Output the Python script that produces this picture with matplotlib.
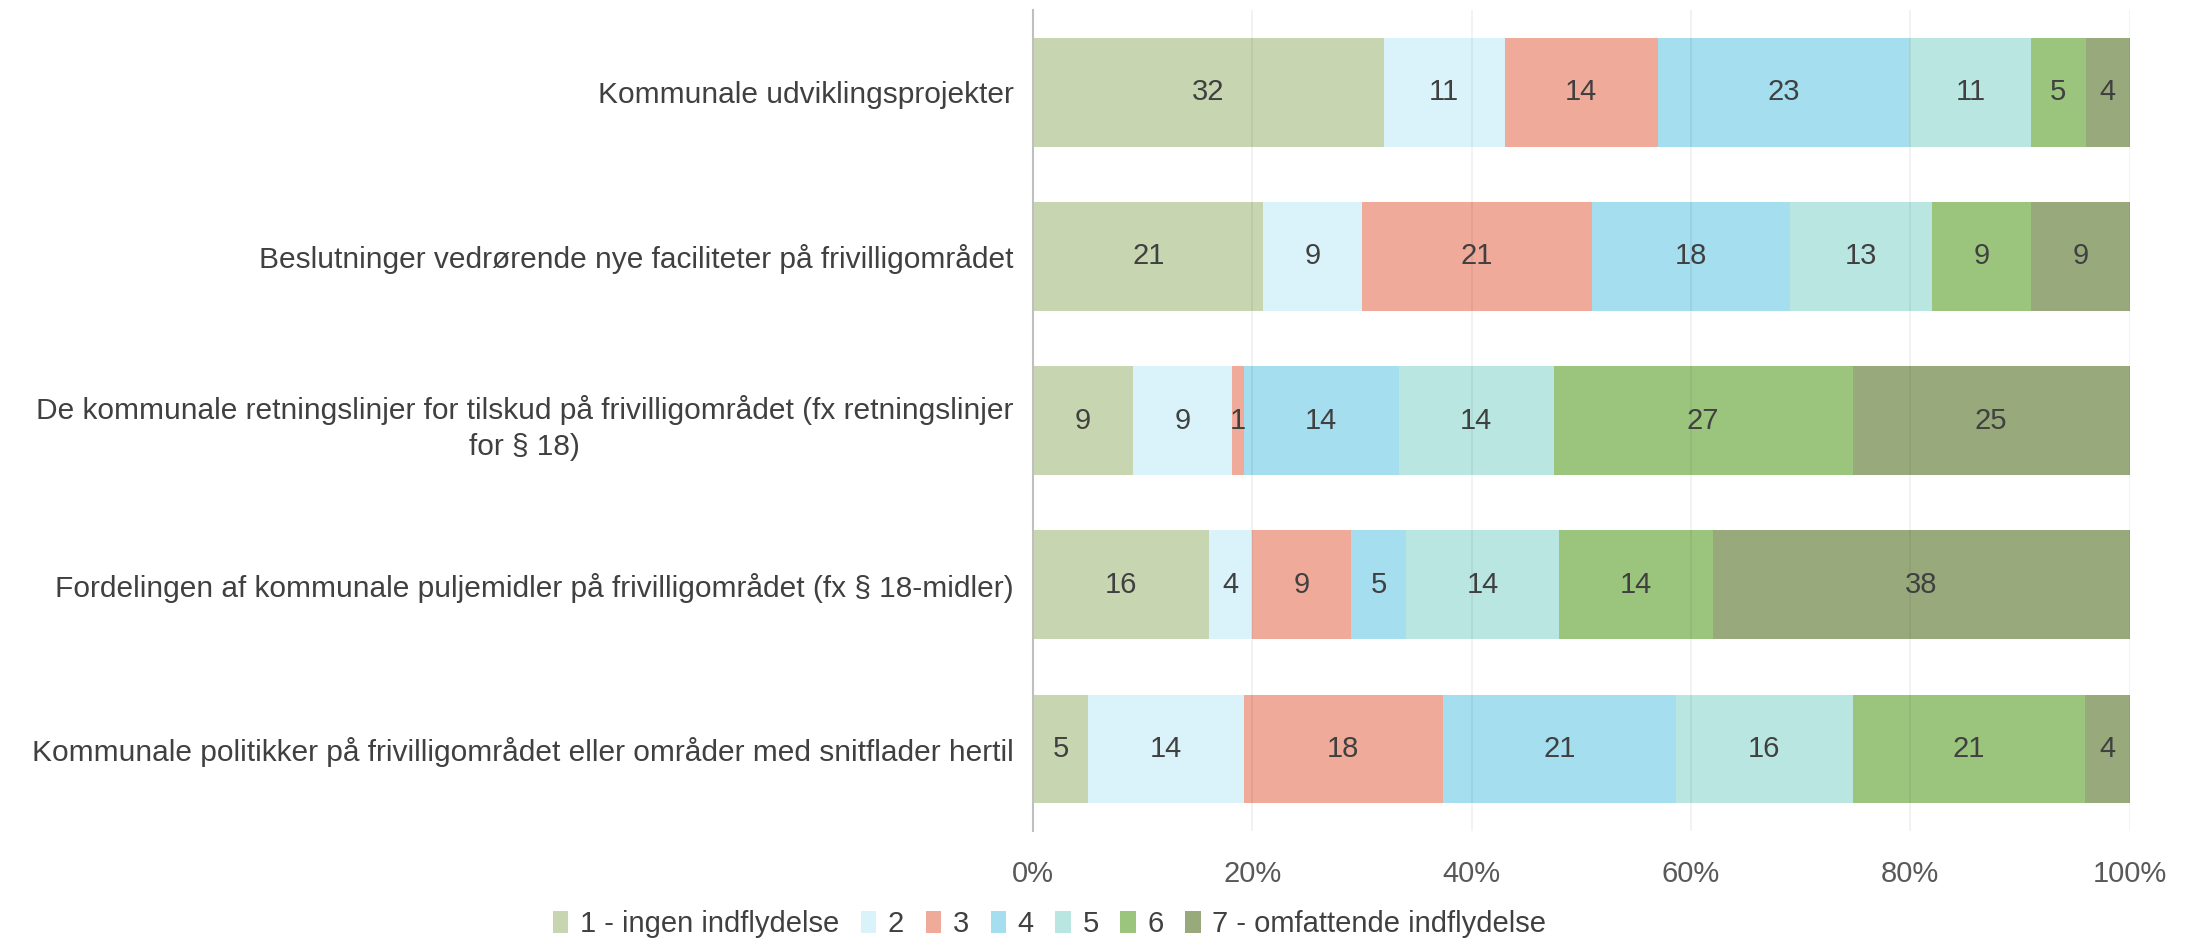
import numpy as np
import matplotlib.pyplot as plt
from matplotlib.ticker import PercentFormatter

plt.rcParams['font.family'] = ['Liberation Sans', 'DejaVu Sans']

categories = [
    "Kommunale udviklingsprojekter",
    "Beslutninger vedrørende nye faciliteter på frivilligområdet",
    "De kommunale retningslinjer for tilskud på frivilligområdet (fx retningslinjer\nfor § 18)",
    "Fordelingen af kommunale puljemidler på frivilligområdet (fx § 18-midler)",
    "Kommunale politikker på frivilligområdet eller områder med snitflader hertil",
]
series_names = ["1 - ingen indflydelse", "2", "3", "4", "5", "6", "7 - omfattende indflydelse"]
s1 = [32, 21, 9, 16, 5]
s2 = [11, 9, 9, 4, 14]
s3 = [14, 21, 1, 9, 18]
s4 = [23, 18, 14, 5, 21]
s5 = [11, 13, 14, 14, 16]
s6 = [5, 9, 27, 14, 21]
s7 = [4, 9, 25, 38, 4]
colors = ["#C7D5B1", "#DAF3FA", "#F0AA9A", "#A4DEEF", "#B9E6E1", "#9BC57D", "#98AA7C"]

data = np.array([s1, s2, s3, s4, s5, s6, s7], dtype=float)
shares = data / data.sum(axis=0)

fig = plt.figure(figsize=(21.91, 9.44), dpi=100)
ax = fig.add_axes([0.4715, 0.12, 0.5005, 0.869])

y = np.arange(len(categories))
left = np.zeros(len(categories))
for i, name in enumerate(series_names):
    ax.barh(y, shares[i], left=left, height=0.66, color=colors[i], label=name, zorder=2)
    for j in range(len(categories)):
        ax.text(left[j] + shares[i][j] / 2, y[j], f"{int(data[i][j])}", ha="center", va="center",
                fontsize=21, color="#404040", zorder=4)
    left += shares[i]

ax.set_xlim(0, 1)
ax.set_ylim(4.5, -0.5)
ax.set_xticks(np.arange(0, 1.01, 0.2))
ax.xaxis.set_major_formatter(PercentFormatter(1.0, decimals=0))
ax.set_yticks(y)
ax.set_yticklabels(categories, fontsize=21.5, color="#404040", linespacing=1.4)
for lbl in ax.get_yticklabels():
    lbl.set_multialignment("center")
ax.tick_params(axis="x", labelsize=21, labelcolor="#595959", length=0, pad=21)
ax.tick_params(axis="y", length=0, pad=14)
ax.grid(axis="x", color="black", alpha=0.06, linewidth=1.2, zorder=3)
ax.set_axisbelow(False)
for s in ["top", "right", "bottom"]:
    ax.spines[s].set_visible(False)
ax.spines["left"].set_color("#BFBFBF")
ax.spines["left"].set_linewidth(1.5)
ax.spines["left"].set_zorder(5)

fig.legend(loc="center", bbox_to_anchor=(0.479, 0.021), ncol=7, frameon=False, fontsize=21,
           handlelength=0.52, handleheight=0.75, handletextpad=0.4, columnspacing=0.75,
           labelcolor="#404040")

plt.savefig("out.png", dpi=100)
